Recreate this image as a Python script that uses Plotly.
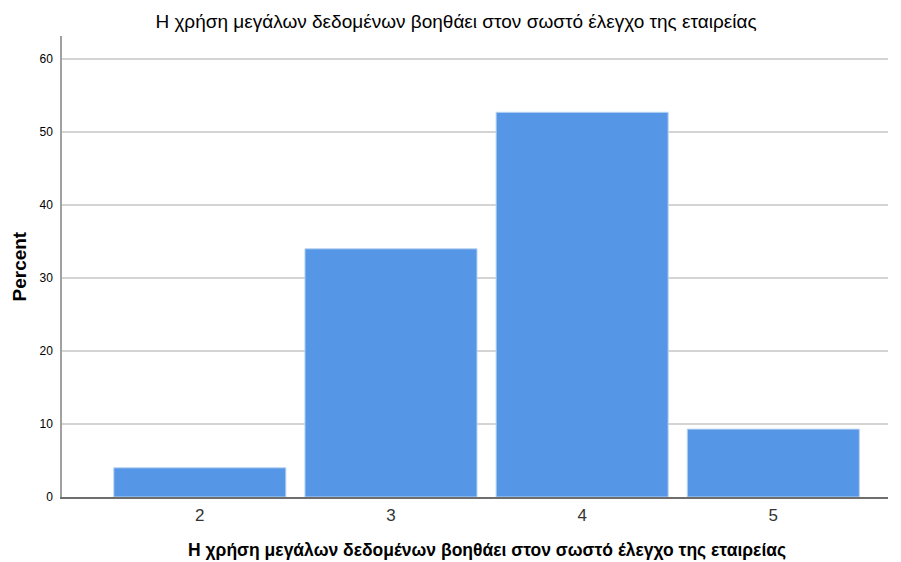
import plotly.graph_objects as go

categories = [2, 3, 4, 5]
percent = [4.0, 34.0, 52.7, 9.3]
y_ticks = [0, 10, 20, 30, 40, 50, 60]

title_text = 'Η χρήση μεγάλων δεδομένων βοηθάει στον σωστό έλεγχο της εταιρείας'
font_family = 'Liberation Sans, Arial, sans-serif'

fig = go.Figure(go.Bar(
    x=categories, y=percent,
    width=0.9,
    marker=dict(color='#5596e6', line=dict(color='#b9d3f3', width=1)),
))

fig.update_layout(
    width=901, height=562,
    margin=dict(l=62, r=13, t=36, b=65),
    plot_bgcolor='white', paper_bgcolor='white',
    font=dict(family=font_family, color='#000000'),
    title=dict(text=title_text, x=456 / 901, xanchor='center', y=1 - 21 / 562, yanchor='middle',
               font=dict(size=19, color='#000000')),
    showlegend=False,
    annotations=[
        # axis titles placed as annotations so their position is exact
        dict(text='<b>' + title_text + '</b>', xref='paper', yref='paper',
             x=(487 - 62) / 826, y=-(550 - 497) / 461, xanchor='center', yanchor='middle',
             showarrow=False, font=dict(size=17.5, color='#000000')),
        dict(text='<b>Percent</b>', xref='paper', yref='paper', textangle=-90,
             x=-(62 - 19) / 826, y=0.5, xanchor='center', yanchor='middle',
             showarrow=False, font=dict(size=19, color='#000000')),
    ],
)

fig.update_xaxes(
    range=[1.279, 5.6], tickvals=categories, ticktext=[str(c) for c in categories],
    tickfont=dict(size=17, color='#333333'),
    ticks='outside', ticklen=2, tickcolor='rgba(0,0,0,0)',
    showline=True, linecolor='#6e6e6e', linewidth=1.5,
    showgrid=False, zeroline=False, automargin=False,
)

fig.update_yaxes(
    range=[0, 63.15], tickvals=y_ticks,
    tickfont=dict(size=12, color='#000000'),
    ticks='outside', ticklen=5, tickcolor='rgba(0,0,0,0)',
    showline=True, linecolor='#a0a0a0', linewidth=1.5,
    showgrid=True, gridcolor='#d4d4d4', gridwidth=1.5, zeroline=False, automargin=False,
)

# drop the browser's default body margin so the figure sits at the page corner
fig.write_html('out.html', config={'displayModeBar': False},
               post_script="document.body.style.margin='0';")
